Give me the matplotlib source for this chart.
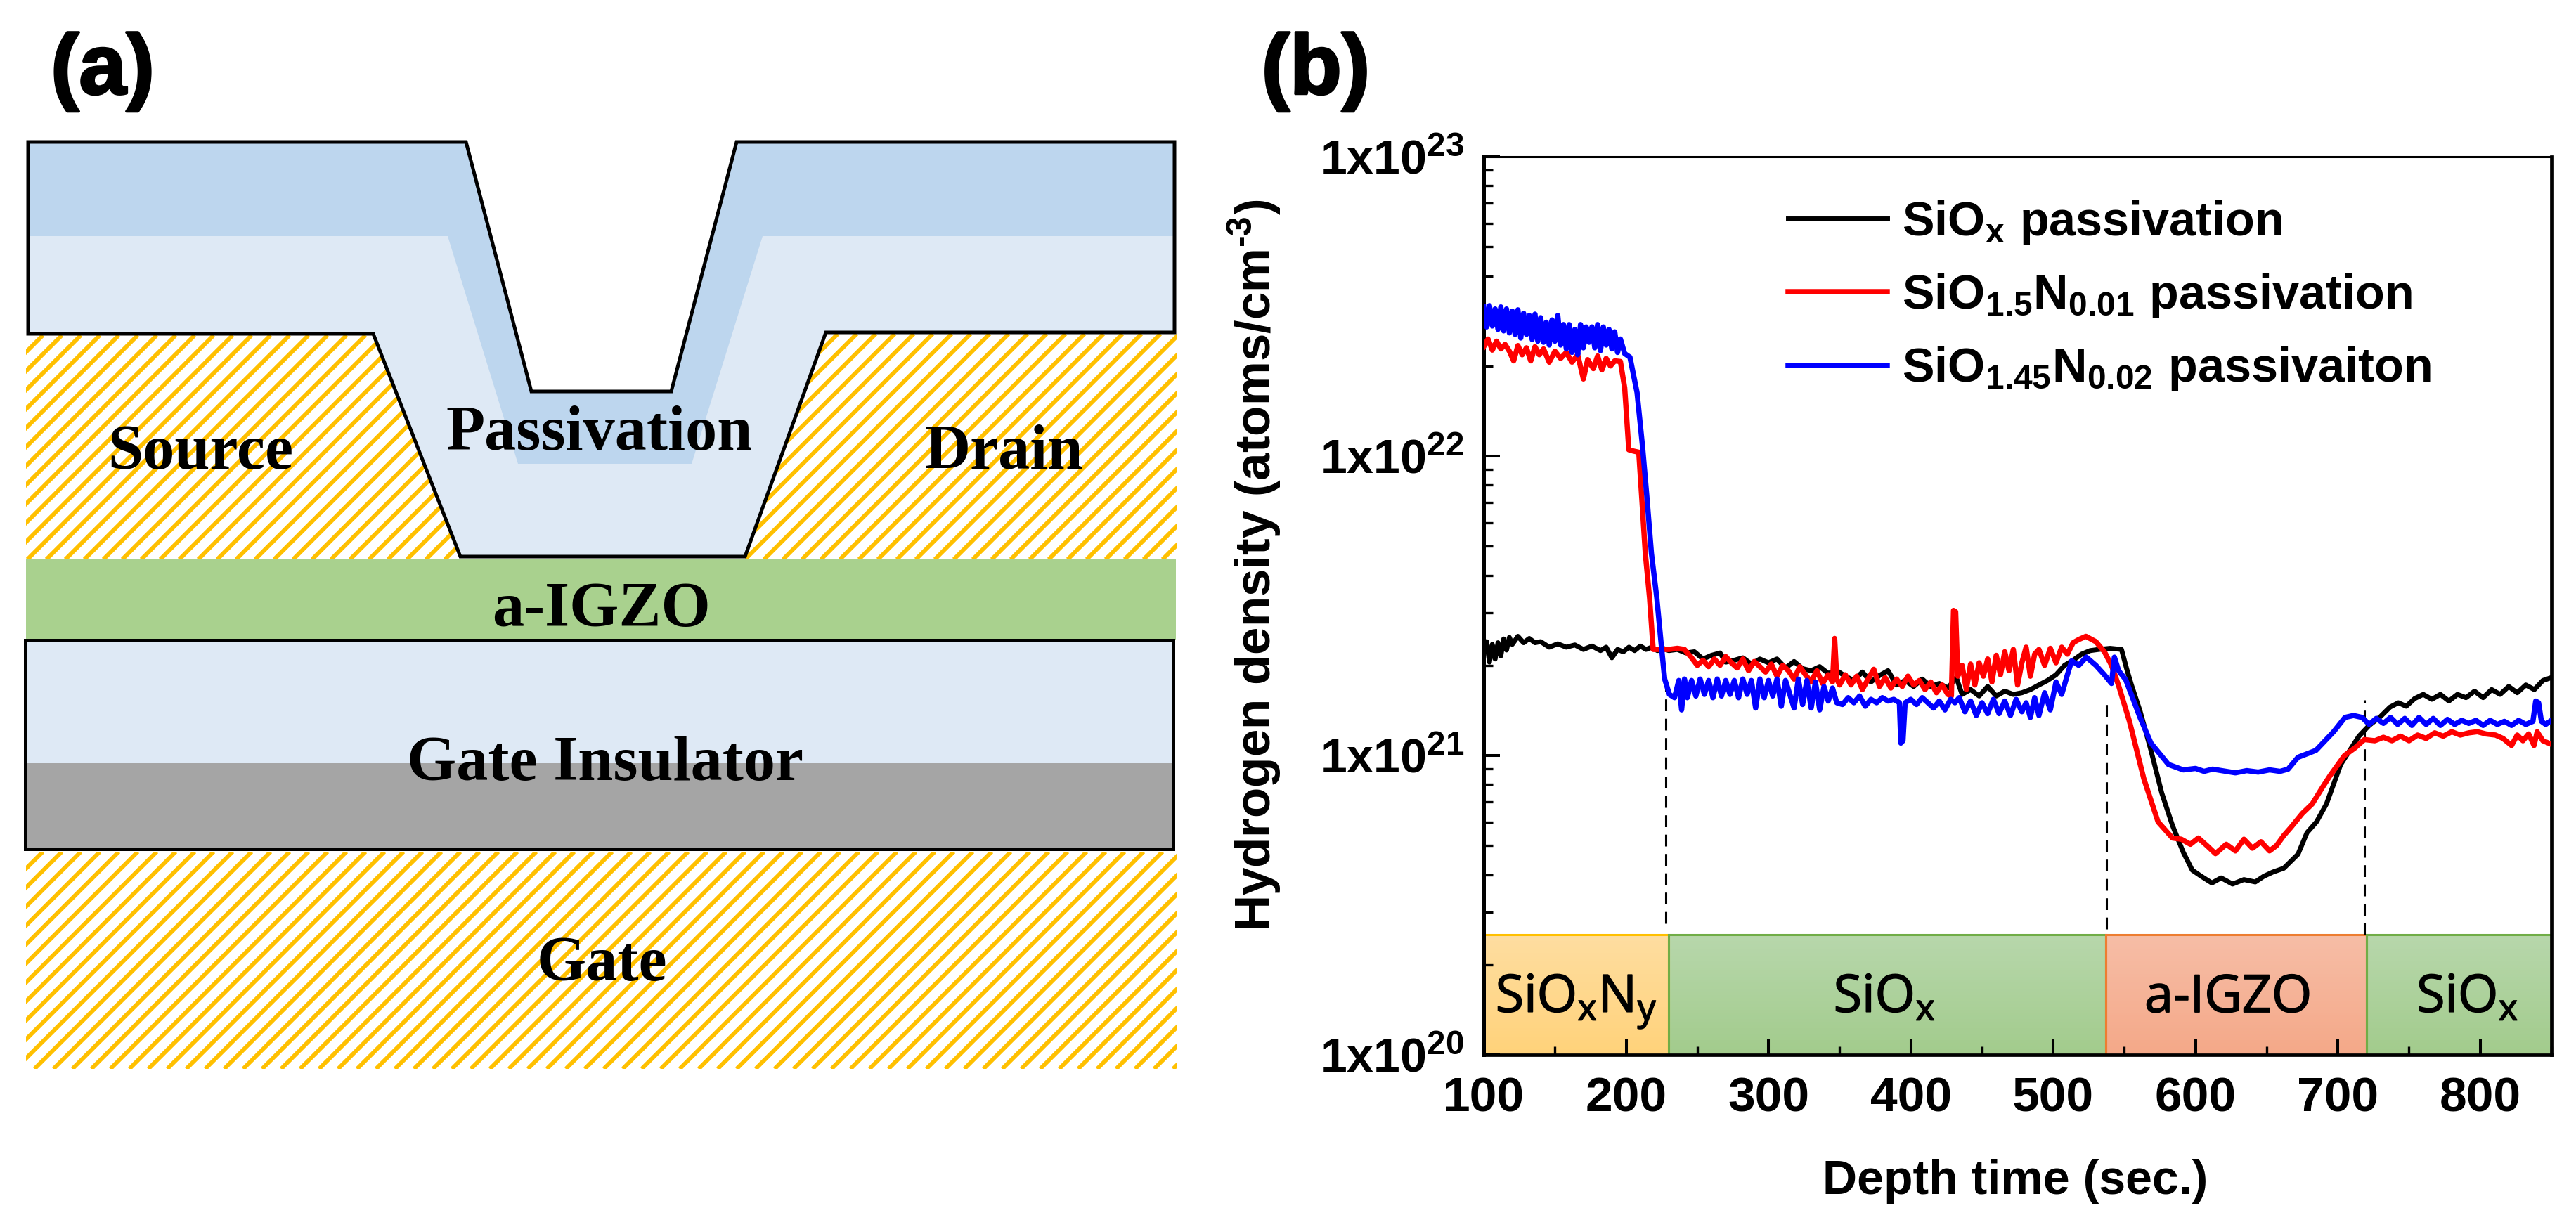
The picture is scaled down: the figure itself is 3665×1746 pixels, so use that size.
import numpy as np
import matplotlib
matplotlib.use("Agg")
import matplotlib.pyplot as plt
import matplotlib.patheffects as pe
from matplotlib.collections import LineCollection
from matplotlib.patches import Polygon, Rectangle
from matplotlib.ticker import LogLocator, NullFormatter
from matplotlib.colors import to_rgb

plt.rcParams['font.family'] = ['Liberation Sans', 'DejaVu Sans']
plt.rcParams['mathtext.fontset'] = 'custom'
plt.rcParams['mathtext.rm'] = 'Liberation Sans:bold'
plt.rcParams['mathtext.sf'] = 'Open Sans'
plt.rcParams['mathtext.it'] = 'Liberation Sans:bold'
plt.rcParams['mathtext.bf'] = 'Liberation Sans:bold'

# ---------- chart values (hydrogen density in units of 1e21 atoms/cm3) ----------
black_t = [100,102,104,106,108,110,112,114,116,118,120,124,128,132,136,140,146,152,158,164,170,176,182,186,190,194,198,202,206,210,214,218,222,226,230,
           236,242,248,254,260,266,270,276,282,288,294,300,306,312,318,324,330,336,342,348,354,360,366,372,378,384,390,396,402,408,414,420,426,432,436,
           442,448,454,460,466,472,478,484,490,496,502,508,514,520,526,532,540,548,551.6,555,561,568.7,576.3,583.8,591.4,597.7,604,611.5,618,626,634,642,648,654.4,662,672,678.3,685,692,702,714.8,722,730,
           736.6,742.5,748,754,760,766,772,778,784,790,796,802,808,814,820,826,832,838,844,850]
black_h = [2.25,2.40,2.05,2.35,2.10,2.38,2.15,2.45,2.25,2.48,2.35,2.50,2.38,2.46,2.38,2.40,2.30,2.36,2.30,2.34,2.26,2.32,2.24,2.30,2.12,2.26,2.22,2.30,2.24,2.32,2.26,2.30,2.24,2.28,2.24,
           2.26,2.20,2.22,2.10,2.16,2.20,2.05,2.08,2.12,2.02,2.10,2.04,2.10,1.96,2.06,1.95,1.92,1.98,1.88,1.92,1.84,1.78,1.90,1.76,1.85,1.92,1.72,1.78,1.70,1.80,1.70,1.74,1.68,1.82,1.60,
           1.66,1.58,1.70,1.58,1.64,1.60,1.62,1.66,1.72,1.78,1.86,2.00,2.08,2.18,2.24,2.26,2.28,2.26,1.95,1.72,1.41,1.04,0.749,0.584,0.475,0.414,0.395,0.375,0.390,0.372,0.385,0.378,0.395,0.408,0.420,0.468,0.552,0.600,0.689,0.933,1.16,1.26,1.35,
           1.45,1.50,1.46,1.55,1.60,1.54,1.60,1.52,1.60,1.56,1.64,1.56,1.66,1.60,1.70,1.62,1.72,1.66,1.78,1.82]

red_t = [100,103,106,109,112,115,118,121,124,127,130,133,136,139,142,146,150,154,158,162,166,170,173,177,180,183,186,189,192,196,199,201.9,205,208.9,211.5,213.5,216.5,219,
         224,230,236,241,246,250,254,258,262,266,270,274,278,282,286,290,294,298,302,306,310,314,318,322,326,330,334,338,342,345,346.5,348,350,354,358,362,366,370,374,378,382,386,390,394,398,402,406,410,414,418,422,426,428.5,430,431.5,433,436,439,442,445,448,451,454,457,460,463,466,469,472,475,478,481,484,487,490,494,498,502,506,510,514,518,523,530,536,541,546,553.6,563.7,573.7,583.8,590,596.4,602,608,614,621.6,628,634,640,646,652,656.9,662,667,675,682,689,694.7,704.7,712,718.6,
         726,732,738,744,750,756,762,768,774,780,786,792,798,804,810.7,816,822,826,830,834,837.8,840,844,850]
red_h = [23.2,24.6,22.6,24.2,22.8,23.6,22.4,20.8,23.4,21.8,23.0,20.8,23.2,21.8,22.8,20.6,22.4,21.2,22.2,20.6,21.8,18.1,21.0,19.6,21.6,19.4,21.2,20.0,20.8,20.7,16.9,10.5,10.4,10.3,6.67,4.73,3.35,2.26,
         2.26,2.26,2.28,2.26,2.12,2.00,2.08,1.98,2.10,2.00,2.14,2.04,1.96,2.10,1.92,2.06,1.98,1.90,2.02,1.84,2.00,1.92,1.80,1.98,1.86,1.76,1.92,1.74,1.86,1.76,2.46,1.80,1.72,1.86,1.72,1.84,1.66,1.80,1.94,1.70,1.82,1.68,1.80,1.70,1.84,1.72,1.78,1.66,1.76,1.62,1.72,1.60,1.58,3.05,3.02,1.84,2.00,1.66,2.02,1.72,2.04,1.84,2.10,1.76,2.16,1.86,2.22,1.92,2.26,1.72,2.04,2.30,1.84,2.18,2.26,2.00,2.28,2.04,2.30,2.18,2.38,2.44,2.50,2.40,2.22,2.00,1.71,1.30,0.836,0.60,0.53,0.525,0.505,0.530,0.500,0.470,0.505,0.480,0.525,0.490,0.515,0.480,0.50,0.54,0.575,0.64,0.689,0.78,0.859,1.00,1.06,1.13,
         1.12,1.15,1.12,1.16,1.12,1.17,1.14,1.19,1.16,1.20,1.17,1.19,1.20,1.18,1.17,1.14,1.08,1.17,1.12,1.18,1.08,1.20,1.12,1.09]

blue_t = [100,102,104,106,108,110,112,114,116,118,120,122,124,126,128,130,132,134,136,138,140,142,144,146,148,150,152,154,156,158,160,162,164,166,168,170,172,174,176,178,180,182,184,186,188,190,192,194,196,199,202.7,207.7,211.5,214.5,217.8,221.6,224.6,227.1,230.4,
          234,237,239,241,243,246,249,252,255,258,261,264,267,270,273,276,279,282,285,288,291,294,297,300,303,306,309,312,315,318,321,324,327,330,333,336,339,342,345,348,352,356,360,364,368,372,376,380,384,388,392,393,394.5,396,400,404,408,412,416,420,424,428,431,434,438,442,446,450,454,458,462,466,470,474,478,481,484,487,490,494,498,502,506,510,513,518,523.3,530,536,541,543,546,551,561,568.7,581,591.4,600,606,612,621.6,628,636,644,652,659.4,665,672,684.6,697,705,711,
          717,722,727,732,737,742,747,752,757,762,767,772,777,782,787,792,797,802,807,812,817,822,827,832,837,839,841,843,846,850]
blue_h = [31.5,27.0,31.8,27.2,31.0,26.5,31.5,26.2,31.0,25.8,30.5,25.5,30.8,24.8,30.0,25.5,29.5,24.5,29.8,24.2,29.0,24.0,28.0,23.5,28.5,24.2,29.5,23.5,27.5,22.8,27.5,22.2,26.5,21.8,27.5,23.0,27.0,24.0,27.0,23.0,27.5,22.5,27.0,23.5,26.5,22.8,26.0,22.2,24.6,22.0,21.4,16.3,10.8,7.4,4.73,3.35,2.37,1.80,1.60,
          1.56,1.78,1.42,1.80,1.56,1.78,1.58,1.80,1.60,1.78,1.56,1.80,1.58,1.78,1.60,1.78,1.56,1.80,1.60,1.78,1.44,1.80,1.56,1.78,1.58,1.80,1.46,1.78,1.60,1.44,1.80,1.48,1.78,1.44,1.76,1.42,1.70,1.52,1.68,1.50,1.48,1.56,1.50,1.58,1.46,1.54,1.50,1.56,1.52,1.54,1.50,1.10,1.12,1.50,1.54,1.48,1.56,1.50,1.44,1.52,1.42,1.54,1.50,1.56,1.40,1.52,1.36,1.50,1.38,1.54,1.38,1.52,1.36,1.54,1.40,1.50,1.34,1.56,1.36,1.62,1.42,1.76,1.60,1.86,2.07,2.00,2.13,2.00,1.86,1.74,2.13,1.92,1.79,1.34,1.10,0.933,0.895,0.905,0.885,0.900,0.885,0.875,0.890,0.880,0.895,0.885,0.900,0.986,1.04,1.20,1.34,1.36,
          1.34,1.27,1.33,1.28,1.34,1.27,1.33,1.26,1.34,1.27,1.33,1.26,1.32,1.27,1.31,1.28,1.31,1.26,1.31,1.27,1.30,1.26,1.31,1.27,1.30,1.52,1.50,1.30,1.27,1.31]

black_label = r'$\mathrm{SiO_x\ passivation}$'
red_label = r'$\mathrm{SiO_{1.5}N_{0.01}\ passivation}$'
blue_label = r'$\mathrm{SiO_{1.45}N_{0.02}\ passivaiton}$'

layer_names = [r'$\mathsf{SiO_xN_y}$', r'$\mathsf{SiO_x}$', 'a-IGZO', r'$\mathsf{SiO_x}$']
layer_start = [100, 230, 537, 720]
layer_end = [230, 537, 720, 850]
layer_label_x = [165, 381.5, 623, 791]
layer_top = 2.52e20
layer_label_y = 1.39e20
layer_edge = ['#FFC000', '#70AD47', '#ED7D31', '#70AD47']
layer_grad_top = ['#FEDDA0', '#B7D7AB', '#F6BDA6', '#B7D7AB']
layer_grad_bot = ['#FFD27A', '#A2CB8C', '#F4A888', '#A2CB8C']

boundary_t = [228, 537.5, 718.8]
boundary_top = [1.67e21, 1.57e21, 1.53e21]
boundary_bot = [2.75e20, 2.63e20, 2.52e20]

x_ticks = [100, 200, 300, 400, 500, 600, 700, 800]
y_ticks = [1e20, 1e21, 1e22, 1e23]
y_tick_labels = [r'$\mathrm{1x10^{20}}$', r'$\mathrm{1x10^{21}}$', r'$\mathrm{1x10^{22}}$', r'$\mathrm{1x10^{23}}$']

# ---------- schematic geometry, in picture pixels ----------
passivation_outline = [(40,202),(663,202),(756,557),(955,557),(1048,202),(1671,202),(1671,473),(1175,473),(1060,792),(655,792),(531,475),(40,475)]
passivation_dark = [(40,202),(663,202),(756,557),(955,557),(1048,202),(1671,202),(1671,336),(1085,336),(984,660),(737,660),(637,336),(40,336)]
source_poly = [(37,477),(531,477),(655,796),(37,796)]
drain_poly = [(1175,475),(1675,475),(1675,796),(1060,796)]
gate_poly = [(37,1212),(1675,1212),(1675,1521),(37,1521)]
igzo_rect = (37, 796, 1636, 115)
gi_rect = (36, 911, 1633, 297)
gi_split_y = 1086
schematic_labels = [('Passivation', 853, 618), ('Source', 285, 645), ('Drain', 1428, 645),
                    ('a-IGZO', 856, 869), ('Gate Insulator', 861, 1088), ('Gate', 856, 1373)]

W, H = 3666, 1746
fig = plt.figure(figsize=(W/100, H/100), dpi=100, facecolor='white')
ax0 = fig.add_axes([0, 0, 1, 1])
ax0.set_xlim(0, W)
ax0.set_ylim(H, 0)
ax0.axis('off')

def hatched(poly):
    clip = Polygon(poly, closed=True, fc='white', ec='none', zorder=1)
    ax0.add_patch(clip)
    xs = [p[0] for p in poly]
    ys = [p[1] for p in poly]
    segs = [[(c - max(ys), max(ys)), (c - min(ys), min(ys))]
            for c in np.arange(min(xs) + min(ys) - 3, max(xs) + max(ys) + 27, 27)]
    lc = LineCollection(segs, colors='#FFC000', linewidths=4.3, zorder=1.1)
    ax0.add_collection(lc)
    lc.set_clip_path(clip)

hatched(source_poly)
hatched(drain_poly)
hatched(gate_poly)
ax0.add_patch(Polygon(passivation_outline, closed=True, fc='#DEE9F5', ec='none', zorder=2))
ax0.add_patch(Polygon(passivation_dark, closed=True, fc='#BDD6EE', ec='none', zorder=2.1))
ax0.add_patch(Polygon(passivation_outline, closed=True, fc='none', ec='black', lw=3.6, zorder=2.2, joinstyle='miter'))
ax0.add_patch(Rectangle(igzo_rect[:2], igzo_rect[2], igzo_rect[3], fc='#A9D18E', ec='none', zorder=2))
ax0.add_patch(Rectangle((gi_rect[0], gi_rect[1]), gi_rect[2], gi_split_y - gi_rect[1], fc='#DEE9F5', ec='none', zorder=2))
ax0.add_patch(Rectangle((gi_rect[0], gi_split_y), gi_rect[2], gi_rect[1] + gi_rect[3] - gi_split_y, fc='#A5A5A5', ec='none', zorder=2))
ax0.add_patch(Rectangle(gi_rect[:2], gi_rect[2], gi_rect[3], fc='none', ec='black', lw=3.6, zorder=2.2))
for s, x, y in schematic_labels:
    ax0.text(x, y, s, family='Liberation Serif', weight='bold', fontsize=65, ha='center', va='center', zorder=3)
heavy = [pe.withStroke(linewidth=2.5, foreground='black')]
ax0.text(146, 102, '(a)', weight='bold', fontsize=87, ha='center', va='center', zorder=3, path_effects=heavy)
ax0.text(1872, 102, '(b)', weight='bold', fontsize=87, ha='center', va='center', zorder=3, path_effects=heavy)

# ---------- chart ----------
L, R, T, B = 2111, 3630, 223, 1501
ax = fig.add_axes([L/W, 1 - B/H, (R-L)/W, (B-T)/H])
ax.set_xscale('linear')
ax.set_yscale('log')
ax.set_xlim(100, 850)
ax.set_ylim(1e20, 1e23)

scale = 1e21
l1, = ax.plot(black_t, np.array(black_h)*scale, color='black', lw=5.0, label=black_label, zorder=3)
l2, = ax.plot(red_t, np.array(red_h)*scale, color='#FF0000', lw=5.4, label=red_label, zorder=3.1)
l3, = ax.plot(blue_t, np.array(blue_h)*scale, color='#0000FF', lw=5.4, label=blue_label, zorder=3.2)

edges = np.logspace(20, np.log10(layer_top), 41)
thin = [pe.withStroke(linewidth=1.2, foreground='black')]
for x0, x1, c0, c1, ec, name, lx in zip(layer_start, layer_end, layer_grad_top, layer_grad_bot, layer_edge, layer_names, layer_label_x):
    c0, c1 = np.array(to_rgb(c0)), np.array(to_rgb(c1))
    frac = np.linspace(1, 0, 40)[:, None, None]
    rgb = c0[None, None, :]*(1 - frac) + c1[None, None, :]*frac
    ax.pcolormesh([x0, x1], edges, rgb, zorder=0.5, shading='flat', antialiased=False)
    ax.add_patch(Rectangle((x0, 1e20), x1 - x0, layer_top - 1e20, fc='none', ec=ec, lw=2.2, zorder=0.6))
    ax.text(lx, layer_label_y, name, fontsize=53, family='Open Sans', ha='center', va='baseline', zorder=1, path_effects=thin)

ax.vlines(boundary_t, boundary_bot, boundary_top, colors='black', lw=2.2, linestyles=(0, (5.5, 3.5)), zorder=2)

ax.set_xticks(x_ticks)
ax.set_xticklabels([str(v) for v in x_ticks], fontweight='bold', fontsize=50)
ax.set_xticks([v + 50 for v in x_ticks], minor=True)
ax.set_yticks(y_ticks)
ax.set_yticklabels(y_tick_labels, fontsize=49)
ax.yaxis.set_minor_locator(LogLocator(base=10, subs=range(2, 10), numticks=12))
ax.yaxis.set_minor_formatter(NullFormatter())
ax.tick_params(axis='both', which='major', direction='in', length=16.5, width=2.9)
ax.tick_params(axis='both', which='minor', direction='in', length=9, width=2.4)
ax.tick_params(axis='x', which='major', pad=22)
ax.tick_params(axis='y', which='major', pad=20)
ax.spines['left'].set_linewidth(3.6)
ax.spines['bottom'].set_linewidth(3.4)
ax.spines['right'].set_linewidth(3.4)
ax.spines['top'].set_linewidth(2.2)

ax.set_xlabel('Depth time (sec.)', fontweight='bold', fontsize=49, va='center')
ax.xaxis.set_label_coords(0.498, -0.141)
ax.set_ylabel('Hydrogen density (atoms/cm$\\mathrm{^{\u20103}}$)', fontweight='bold', fontsize=51, va='center')
ax.yaxis.set_label_coords(-0.215, 0.545)

ax.legend(handles=[l1, l2, l3], loc='upper left', bbox_to_anchor=((2544-L)/(R-L), (B-283)/(B-T)),
          frameon=False, fontsize=49.2, handlelength=2.07, handletextpad=0.3, labelspacing=0.53,
          borderpad=0, borderaxespad=0)

fig.savefig('out.png', dpi=100, facecolor='white')
